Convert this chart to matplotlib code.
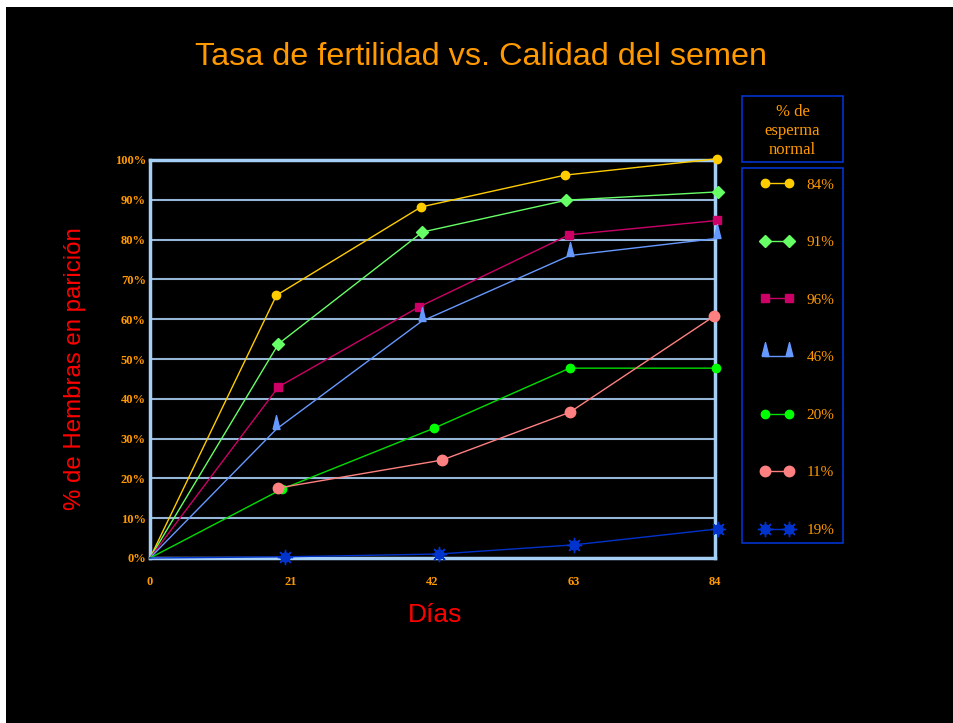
import matplotlib
matplotlib.use("Agg")
import matplotlib.pyplot as plt
from matplotlib.patches import Rectangle
from matplotlib.legend_handler import HandlerTuple, HandlerLine2D
from matplotlib.lines import Line2D

# ---- data ----
title = "Tasa de fertilidad vs. Calidad del semen"
xlabel = "Días"
ylabel = "% de Hembras en parición"
legend_title = "% de\nesperma\nnormal"
x_ticks = [0, 21, 42, 63, 84]
y_ticks = [0, 10, 20, 30, 40, 50, 60, 70, 80, 90, 100]
y_ticklabels = [f"{v}%" for v in y_ticks]

labels = ["84%", "91%", "96%", "46%", "20%", "11%", "19%"]
days_84 = [0, 18.8, 40.3, 61.7, 84.3]
vals_84 = [0, 66.0, 88.2, 96.2, 100.3]
days_91 = [0, 19.1, 40.5, 61.9, 84.5]
vals_91 = [0, 53.8, 81.9, 89.9, 92.0]
days_96 = [0, 19.1, 40.0, 62.3, 84.3]
vals_96 = [0, 43.0, 63.1, 81.2, 84.8]
days_46 = [0, 18.8, 40.4, 62.4, 84.3]
vals_46 = [0, 32.4, 59.5, 76.0, 80.3]
days_20 = [0, 19.6, 42.2, 62.4, 84.2]
vals_20 = [0, 17.3, 32.6, 47.7, 47.7]
days_11 = [19.1, 43.4, 62.4, 83.9]
vals_11 = [17.6, 24.6, 36.6, 60.8]
days_19 = [0, 20.0, 42.9, 63.0, 84.4]
vals_19 = [0, 0.3, 1.0, 3.3, 7.3]

ORANGE = "#FF9900"
RED = "#FF0000"

fig = plt.figure(figsize=(9.54, 7.23), dpi=100, facecolor="white")
fig.patches.append(Rectangle((6 / 954, 0), 1, 1 - 7 / 723, transform=fig.transFigure,
                             facecolor="black", edgecolor="none", zorder=-10))

ax = fig.add_axes([150 / 954, 1 - 558 / 723, (715 - 150) / 954, (558 - 160) / 723])
ax.set_facecolor("black")
ax.set_xlim(0, 84)
ax.set_ylim(0, 100)

for v in y_ticks[1:-1]:
    ax.axhline(v, color="#96B6D8", lw=1.5, zorder=1)

tri = [(-0.25, 0), (0.25, 0), (0, 1), (-0.25, 0)]

def series(x, y, color, marker, ms, lc=None, skip_first=True):
    return ax.plot(x, y, color=lc or color, lw=1.0, marker=marker, ms=ms,
                   mfc=color, mec=color, markevery=slice(1, None) if skip_first else None,
                   clip_on=False, zorder=3)[0]

h84 = series(days_84, vals_84, "#FFCC00", "o", 6)
h91 = series(days_91, vals_91, "#66FF66", "D", 6.5)
h96 = series(days_96, vals_96, "#CC0066", "s", 6)
h46 = series(days_46, vals_46, "#6699FF", tri, 20)
h20 = series(days_20, vals_20, "#00FF00", "o", 6, lc="#00DD00")
h11 = series(days_11, vals_11, "#FF8080", "o", 7.5, skip_first=False)
h19 = series(days_19, vals_19, "#0033CC", "o", 6.5)
h19b = ax.plot(days_19, vals_19, ls="none", marker=(8, 2, 0), ms=11, mec="#0033CC",
               mew=1.0, markevery=slice(1, None), clip_on=False, zorder=3)[0]

for s in ax.spines.values():
    s.set_color("#A6CFF5")
    s.set_linewidth(2.5)
    s.set_zorder(2)

ax.set_xticks(x_ticks)
ax.set_yticks(y_ticks)
ax.set_yticklabels(y_ticklabels)
ax.tick_params(length=0, colors=ORANGE)
ax.tick_params(axis="x", pad=13)
ax.tick_params(axis="y", pad=3)
for t in ax.get_xticklabels() + ax.get_yticklabels():
    t.set_fontfamily("Liberation Serif")
    t.set_fontweight("bold")
    t.set_fontsize(9)
    t.set_color(ORANGE)

fig.text(481 / 954, 1 - 57 / 723, title, ha="center", va="center", color=ORANGE,
         fontsize=23.3, fontfamily="Liberation Sans")
fig.text(75 / 954, 1 - 369 / 723, ylabel, ha="center", va="center", rotation=90,
         color=RED, fontsize=17.3, fontfamily="Liberation Sans")
fig.text(435 / 954, 1 - 615 / 723, xlabel, ha="center", va="center",
         color=RED, fontsize=19, fontfamily="Liberation Sans")

# legend header box
fig.patches.append(Rectangle((742 / 954, 1 - 162 / 723), 101 / 954, 66 / 723,
                             transform=fig.transFigure, facecolor="none",
                             edgecolor="#0033CC", lw=1.2))
fig.text(792.5 / 954, 1 - 131 / 723, legend_title, ha="center", va="center",
         color=ORANGE, fontsize=12, fontfamily="Liberation Serif", linespacing=1.24)
# legend entries box
fig.patches.append(Rectangle((742 / 954, 1 - 543 / 723), 101 / 954, 375 / 723,
                             transform=fig.transFigure, facecolor="none",
                             edgecolor="#0033CC", lw=1.2))

handles = [h84, h91, h96, h46, h20, h11, (h19, h19b)]
leg = fig.legend(handles, labels, loc="upper left",
                 bbox_to_anchor=(765 / 954, 1 - 178 / 723), frameon=False,
                 numpoints=2, handlelength=1.57, handletextpad=1.15,
                 labelspacing=2.87, borderpad=0, borderaxespad=0,
                 prop={"family": "Liberation Serif", "size": 11},
                 handler_map={Line2D: HandlerLine2D(marker_pad=0),
                              tuple: HandlerTuple(ndivide=1, pad=0)})
for t in leg.get_texts():
    t.set_color(ORANGE)

fig.savefig("out.png", dpi=100, facecolor=fig.get_facecolor())
